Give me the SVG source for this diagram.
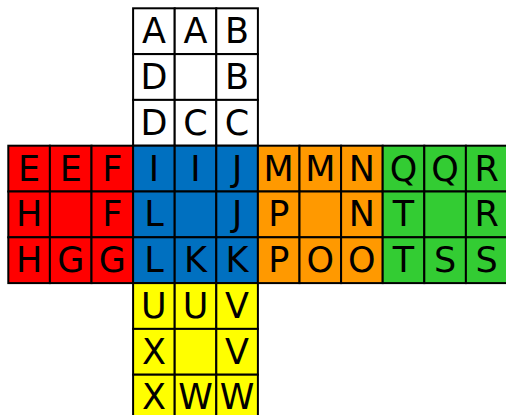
<svg xmlns="http://www.w3.org/2000/svg" width="506" height="415" viewBox="0 0 506 415">
<style>
.c{stroke:#000;stroke-width:2}
.w{fill:#fff}.r{fill:#ff0000}.b{fill:#0070c0}.o{fill:#ff9900}.g{fill:#33cc33}.y{fill:#ffff00}
text{font-family:"DejaVu Sans",Verdana,sans-serif;font-size:35px;text-anchor:middle;fill:#000}
</style>
<rect x="0" y="0" width="506" height="415" fill="#fff"/>
<g id="face-top">
<rect class="c w" x="133.1" y="8.3" width="41.6" height="45.8"/><rect class="c w" x="174.7" y="8.3" width="41.6" height="45.8"/><rect class="c w" x="216.3" y="8.3" width="41.6" height="45.8"/>
<rect class="c w" x="133.1" y="54.1" width="41.6" height="45.8"/><rect class="c w" x="174.7" y="54.1" width="41.6" height="45.8"/><rect class="c w" x="216.3" y="54.1" width="41.6" height="45.8"/>
<rect class="c w" x="133.1" y="99.9" width="41.6" height="45.8"/><rect class="c w" x="174.7" y="99.9" width="41.6" height="45.8"/><rect class="c w" x="216.3" y="99.9" width="41.6" height="45.8"/>
<text x="153.9" y="43.1">A</text><text x="195.5" y="43.1">A</text><text x="237.1" y="43.1">B</text>
<text x="153.9" y="88.9">D</text><text x="237.1" y="88.9">B</text>
<text x="153.9" y="134.7">D</text><text x="195.5" y="134.7">C</text><text x="237.1" y="134.7">C</text>
</g>
<g id="face-left">
<rect class="c r" x="8.3" y="145.7" width="41.6" height="45.8"/><rect class="c r" x="49.9" y="145.7" width="41.6" height="45.8"/><rect class="c r" x="91.5" y="145.7" width="41.6" height="45.8"/>
<rect class="c r" x="8.3" y="191.5" width="41.6" height="45.8"/><rect class="c r" x="49.9" y="191.5" width="41.6" height="45.8"/><rect class="c r" x="91.5" y="191.5" width="41.6" height="45.8"/>
<rect class="c r" x="8.3" y="237.3" width="41.6" height="45.8"/><rect class="c r" x="49.9" y="237.3" width="41.6" height="45.8"/><rect class="c r" x="91.5" y="237.3" width="41.6" height="45.8"/>
<text x="29.1" y="180.5">E</text><text x="70.7" y="180.5">E</text><text x="112.3" y="180.5">F</text>
<text x="29.1" y="226.3">H</text><text x="112.3" y="226.3">F</text>
<text x="29.1" y="272.1">H</text><text x="70.7" y="272.1">G</text><text x="112.3" y="272.1">G</text>
</g>
<g id="face-front">
<rect class="c b" x="133.1" y="145.7" width="41.6" height="45.8"/><rect class="c b" x="174.7" y="145.7" width="41.6" height="45.8"/><rect class="c b" x="216.3" y="145.7" width="41.6" height="45.8"/>
<rect class="c b" x="133.1" y="191.5" width="41.6" height="45.8"/><rect class="c b" x="174.7" y="191.5" width="41.6" height="45.8"/><rect class="c b" x="216.3" y="191.5" width="41.6" height="45.8"/>
<rect class="c b" x="133.1" y="237.3" width="41.6" height="45.8"/><rect class="c b" x="174.7" y="237.3" width="41.6" height="45.8"/><rect class="c b" x="216.3" y="237.3" width="41.6" height="45.8"/>
<text x="153.9" y="180.5">I</text><text x="195.5" y="180.5">I</text><text x="237.1" y="180.5">J</text>
<text x="153.9" y="226.3">L</text><text x="237.1" y="226.3">J</text>
<text x="153.9" y="272.1">L</text><text x="195.5" y="272.1">K</text><text x="237.1" y="272.1">K</text>
</g>
<g id="face-right">
<rect class="c o" x="257.9" y="145.7" width="41.6" height="45.8"/><rect class="c o" x="299.5" y="145.7" width="41.6" height="45.8"/><rect class="c o" x="341.1" y="145.7" width="41.6" height="45.8"/>
<rect class="c o" x="257.9" y="191.5" width="41.6" height="45.8"/><rect class="c o" x="299.5" y="191.5" width="41.6" height="45.8"/><rect class="c o" x="341.1" y="191.5" width="41.6" height="45.8"/>
<rect class="c o" x="257.9" y="237.3" width="41.6" height="45.8"/><rect class="c o" x="299.5" y="237.3" width="41.6" height="45.8"/><rect class="c o" x="341.1" y="237.3" width="41.6" height="45.8"/>
<text x="278.7" y="180.5">M</text><text x="320.3" y="180.5">M</text><text x="361.9" y="180.5">N</text>
<text x="278.7" y="226.3">P</text><text x="361.9" y="226.3">N</text>
<text x="278.7" y="272.1">P</text><text x="320.3" y="272.1">O</text><text x="361.9" y="272.1">O</text>
</g>
<g id="face-back">
<rect class="c g" x="382.7" y="145.7" width="41.6" height="45.8"/><rect class="c g" x="424.3" y="145.7" width="41.6" height="45.8"/><rect class="c g" x="465.9" y="145.7" width="41.6" height="45.8"/>
<rect class="c g" x="382.7" y="191.5" width="41.6" height="45.8"/><rect class="c g" x="424.3" y="191.5" width="41.6" height="45.8"/><rect class="c g" x="465.9" y="191.5" width="41.6" height="45.8"/>
<rect class="c g" x="382.7" y="237.3" width="41.6" height="45.8"/><rect class="c g" x="424.3" y="237.3" width="41.6" height="45.8"/><rect class="c g" x="465.9" y="237.3" width="41.6" height="45.8"/>
<text x="403.5" y="180.5">Q</text><text x="445.1" y="180.5">Q</text><text x="486.7" y="180.5">R</text>
<text x="403.5" y="226.3">T</text><text x="486.7" y="226.3">R</text>
<text x="403.5" y="272.1">T</text><text x="445.1" y="272.1">S</text><text x="486.7" y="272.1">S</text>
</g>
<g id="face-bottom">
<rect class="c y" x="133.1" y="283.1" width="41.6" height="45.8"/><rect class="c y" x="174.7" y="283.1" width="41.6" height="45.8"/><rect class="c y" x="216.3" y="283.1" width="41.6" height="45.8"/>
<rect class="c y" x="133.1" y="328.9" width="41.6" height="45.8"/><rect class="c y" x="174.7" y="328.9" width="41.6" height="45.8"/><rect class="c y" x="216.3" y="328.9" width="41.6" height="45.8"/>
<rect class="c y" x="133.1" y="374.7" width="41.6" height="45.8"/><rect class="c y" x="174.7" y="374.7" width="41.6" height="45.8"/><rect class="c y" x="216.3" y="374.7" width="41.6" height="45.8"/>
<text x="153.9" y="317.7">U</text><text x="195.5" y="317.7">U</text><text x="237.1" y="317.7">V</text>
<text x="153.9" y="363.5">X</text><text x="237.1" y="363.5">V</text>
<text x="153.9" y="409">X</text><text x="195.5" y="409">W</text><text x="237.1" y="409">W</text>
</g>
<g id="connectors"/>
</svg>
